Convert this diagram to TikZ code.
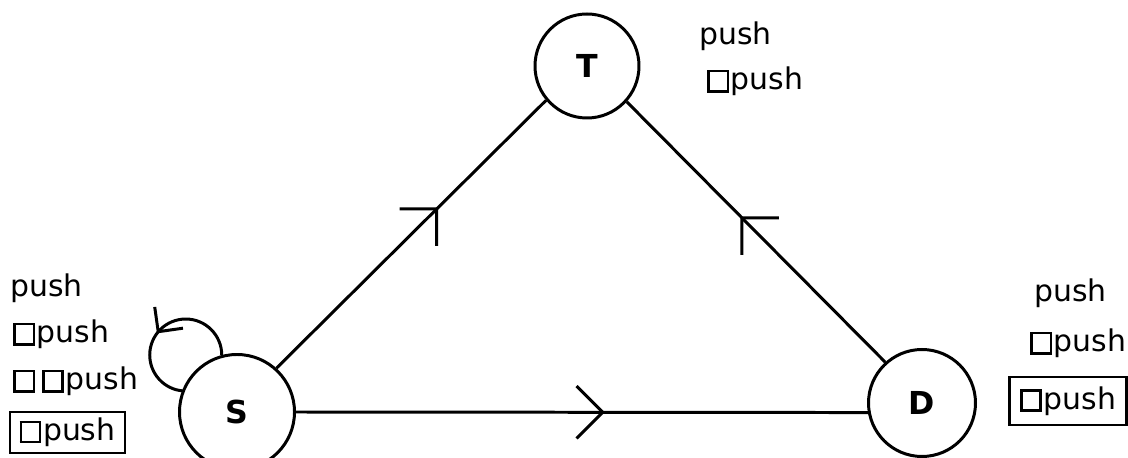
\documentclass[tikz,border=0pt]{standalone}
\usepackage{fontspec}
\setmainfont{DejaVu Sans}
\usetikzlibrary{arrows.meta, decorations.markings}
\newcommand{\bx}{{\setlength\fboxsep{0pt}\setlength\fboxrule{1.5pt}\fbox{\rule{0pt}{10pt}\hspace{9.4pt}}}\kern1pt}
\tikzset{
	state/.style={circle, draw, line width=1.7pt, inner sep=0pt, font=\fontsize{18}{20}\selectfont\bfseries},
	lbl/.style={anchor=base west, inner sep=0pt, font=\fontsize{17}{20}\selectfont},
	boxlbl/.style={draw, line width=1.2pt, inner sep=0pt, font=\fontsize{17}{20}\selectfont}
}

\begin{document}
\begin{tikzpicture}[
        edge/.style={line width=1.7pt},
        midarr/.style={postaction={decorate}, decoration={markings,
            mark=at position #1 with {\arrow[line width=1.7pt]{Straight Barb[angle=90:0.74cm]}}}},
        looparr/.style={postaction={decorate}, decoration={markings,
            mark=at position #1 with {\arrow[line width=1.7pt]{Straight Barb[angle=90:0.5cm]}}}}
    ]
        \useasboundingbox (0,0) rectangle (22.56,-9.16);

        \node[state, minimum size=2.08cm] (T) at (11.74,-1.32) {T};
        \node[state, minimum size=2.3cm] (S) at (4.74,-8.24) {S};
        \node[state, minimum size=2.14cm] (D) at (18.44,-8.06) {D};

        % labels left of S
        \node[lbl] (s1) at (0.2,-5.94) {push};
        \node[lbl] (s2) at (0.26,-6.86) {\bx push};
        \node[lbl] (s3) at (0.26,-7.8) {\bx\kern3pt\bx push};
        \node[boxlbl, minimum width=2.3cm, minimum height=0.82cm] (s4) at (1.35,-8.65) {\bx push};

        % labels beside T
        \node[lbl] (t1) at (13.98,-0.9) {push};
        \node[lbl] (t2) at (14.14,-1.8) {\bx push};

        % labels right of D
        \node[lbl] (d1) at (20.68,-6.04) {push};
        \node[lbl] (d2) at (20.6,-7.04) {\bx push};
        \node[boxlbl, minimum width=2.34cm, minimum height=0.96cm] (d3) at (21.36,-8.02) {\bx push};

        \draw[edge, midarr=0.6] (S.48) -- (T.220);
        \draw[edge, midarr=0.56] (D.132) -- (T.318);
        \draw[edge, midarr=0.54] (S.east) -- (D.190);
        \draw[edge, looparr=0.54] (S.105) arc[start angle=0, end angle=265, radius=0.72cm];
    \end{tikzpicture}
\end{document}
